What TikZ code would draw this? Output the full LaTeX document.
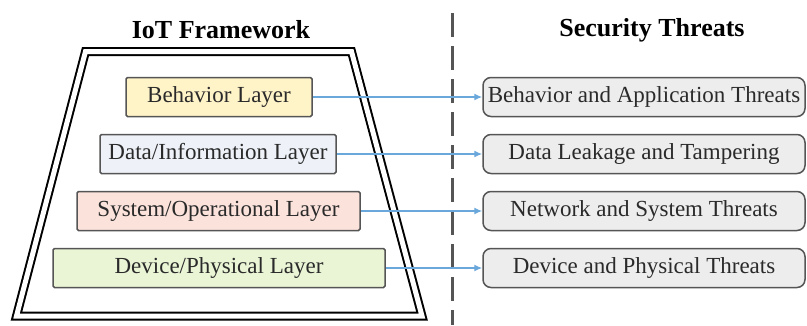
\documentclass[tikz,border=0pt]{standalone}
\usepackage{fontspec}
\setmainfont{Liberation Serif}
\usetikzlibrary{arrows.meta}
\definecolor{layerYellow}{HTML}{FFF3C8}
\definecolor{layerBlue}{HTML}{EEF2F8}
\definecolor{layerPink}{HTML}{FBE3DC}
\definecolor{layerGreen}{HTML}{EAF5D6}
\definecolor{threatGray}{HTML}{EDEDED}
\definecolor{edgeGray}{HTML}{555555}
\definecolor{linkBlue}{HTML}{6AA7DB}
\definecolor{textDark}{HTML}{2A2A2A}
\begin{document}
\begin{tikzpicture}[x=1pt,y=-1pt,
  heading/.style={font=\fontsize{26}{30}\selectfont\bfseries, text=black, inner sep=0pt},
  layerbox/.style={draw=edgeGray, line width=1.5pt, rounded corners=1.5pt, minimum height=39pt,
    inner sep=0pt, text=textDark, font=\fontsize{23}{27}\selectfont},
  threatbox/.style={draw=edgeGray, line width=1.5pt, rounded corners=8pt, fill=threatGray,
    minimum width=322pt, minimum height=39pt, inner sep=0pt, text=textDark,
    font=\fontsize{23}{27}\selectfont},
  link/.style={draw=linkBlue, line width=1.4pt, -{Latex[length=8pt,width=7pt]}}]
  \useasboundingbox (0,0) rectangle (807,325);

  % headings
  \node[heading] (hframe) at (221,30) {IoT Framework};
  \node[heading] (hthreat) at (652,30) {Security Threats};

  % framework outline: double-lined trapezoid
  \draw[line width=2pt, double=white, double distance=5pt, line join=miter]
    (85.5,51.5) -- (351.5,51.5) -- (422,316) -- (16.5,316) -- cycle;

  % separator
  \draw[edgeGray, line width=3pt, dash pattern=on 24pt off 9pt] (452,13) -- (452,325);

  % layers
  \node[layerbox, fill=layerYellow, minimum width=186pt] (behav) at (219,97) {Behavior Layer};
  \node[layerbox, fill=layerBlue, minimum width=236pt] (data) at (218,154) {Data/Information Layer};
  \node[layerbox, fill=layerPink, minimum width=283pt] (sys) at (218.5,211) {System/Operational Layer};
  \node[layerbox, fill=layerGreen, minimum width=332pt] (dev) at (219,268) {Device/Physical Layer};

  % threats
  \node[threatbox] (tbehav) at (644,97) {Behavior and Application Threats};
  \node[threatbox] (tdata) at (644,154) {Data Leakage and Tampering};
  \node[threatbox] (tsys) at (644,211) {Network and System Threats};
  \node[threatbox] (tdev) at (644,268) {Device and Physical Threats};

  % mappings
  \draw[link] (behav) -- (tbehav);
  \draw[link] (data) -- (tdata);
  \draw[link] (sys) -- (tsys);
  \draw[link] (dev) -- (tdev);
\end{tikzpicture}
\end{document}
